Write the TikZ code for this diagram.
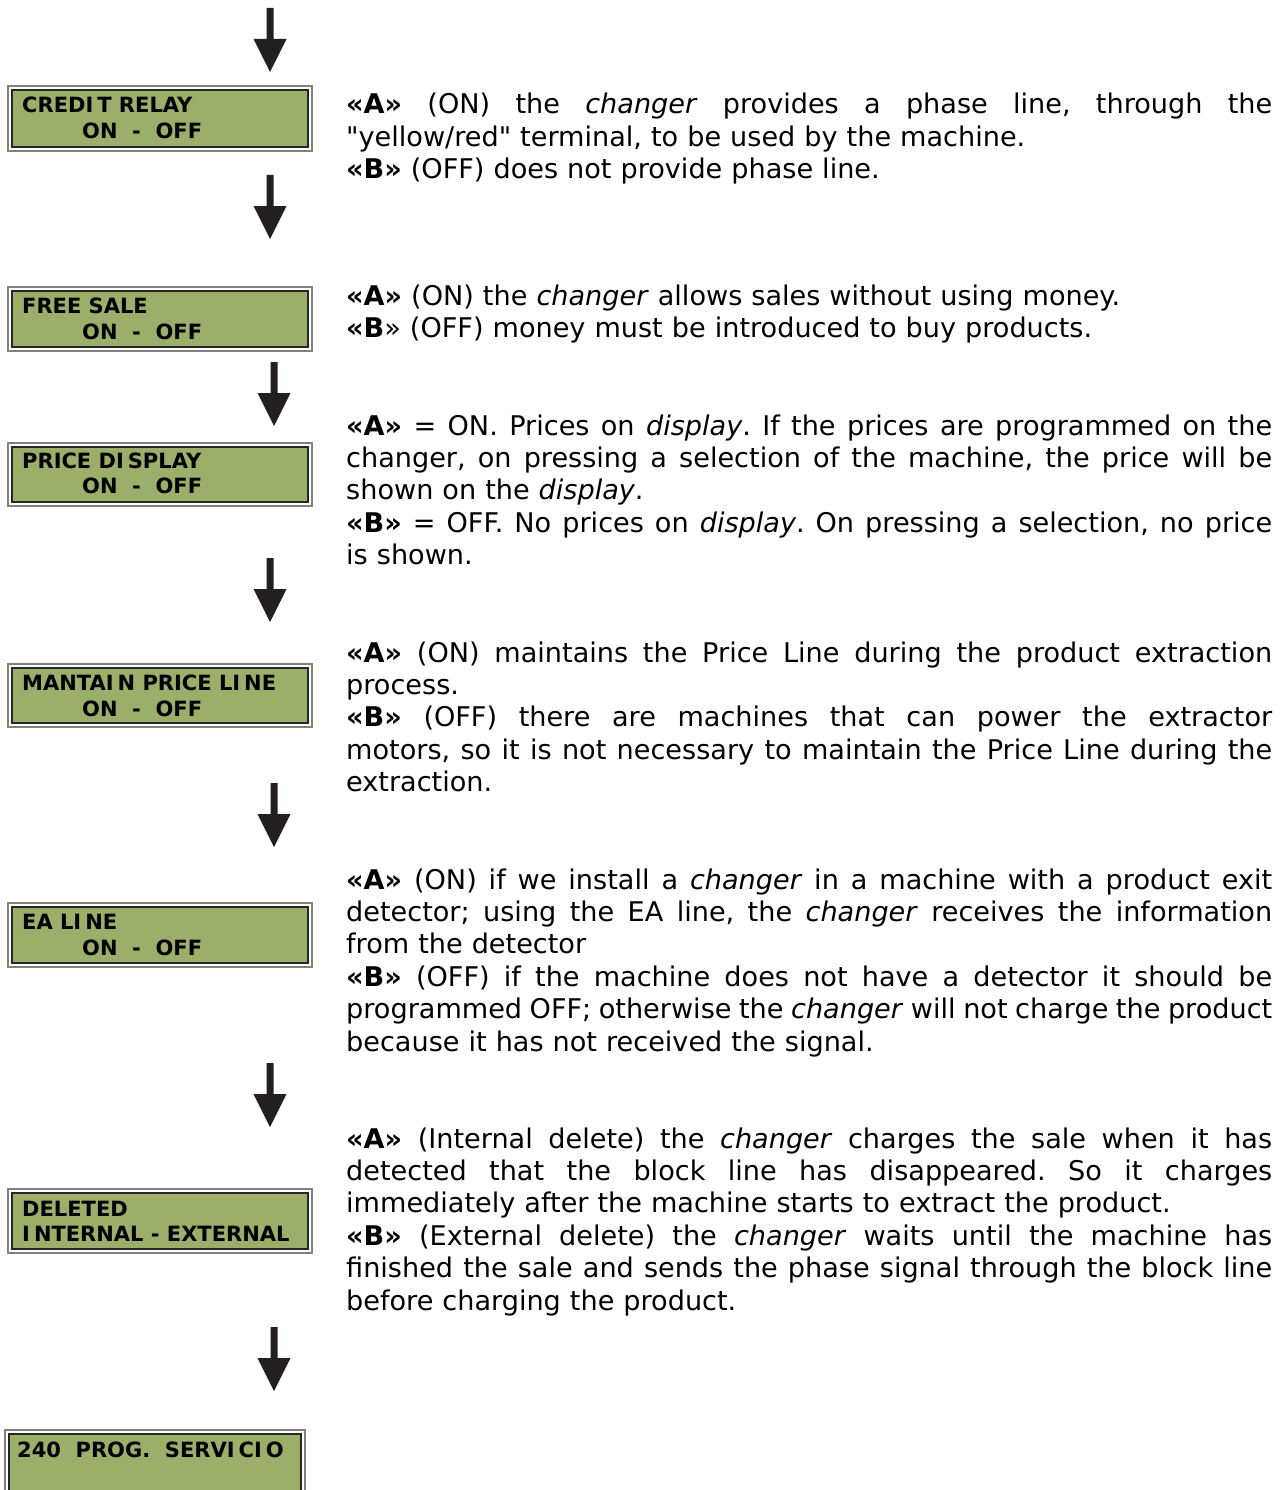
\documentclass[tikz,border=0pt]{standalone}
\usepackage{fontspec}
\setmainfont{DejaVu Sans}
\definecolor{lcdgreen}{RGB}{155,174,106}
\definecolor{framegray}{RGB}{128,128,128}
\definecolor{arrowcol}{RGB}{35,31,32}
\newcommand\jl[1]{\leavevmode\hbox to 926pt{\spaceskip=\fontdimen2\font plus 1fil minus .3\fontdimen2\font\relax\xspaceskip=\spaceskip #1}}
\newcommand\lln[1]{\leavevmode\hbox to 926pt{#1\hss}}
\newcommand\A{\textbf{«A»}}
\newcommand\B{\textbf{«B»}}
\newcommand\gp{\kern4pt}
\begin{document}
\begin{tikzpicture}[x=1pt,y=-1pt,
  frame/.style={draw=framegray,line width=1.2pt,fill=white,minimum width=304pt,minimum height=64pt,inner sep=0pt},
  lcd/.style={draw=black!85,line width=1.2pt,fill=lcdgreen,minimum width=296pt,minimum height=56pt,inner sep=0pt},
  lcdtext/.style={anchor=base west,inner sep=0pt,font=\fontsize{21}{25}\selectfont\bfseries},
  body/.style={anchor=base west,inner sep=0pt,text width=926pt,align=left,font=\fontsize{27.1}{32.4}\selectfont\frenchspacing},
  downarrow/.pic={\fill[arrowcol] (-3.5,0) -- (3.5,0) -- (3.5,31) -- (16.5,31) -- (0,64) -- (-16.5,31) -- (-3.5,31) -- cycle;}]
\useasboundingbox (0,0) rectangle (1286,1490);
% arrows
\pic at (270,8) {downarrow};
\pic at (270,175) {downarrow};
\pic at (274,362) {downarrow};
\pic at (270,558) {downarrow};
\pic at (274,783) {downarrow};
\pic at (270,1063) {downarrow};
\pic at (274,1327) {downarrow};
% boxes
\node[frame,minimum height=65pt] (f1) at (160,118.5) {};
\node[lcd,minimum height=57pt] (l1) at (f1.center) {};
\node[lcdtext] (t1a) at (22,113) {CREDI\gp T RELAY};
\node[lcdtext] (t1b) at (82,139) {ON \ - \ OFF};

\node[frame] (f2) at (160,319) {};
\node[lcd] (l2) at (f2.center) {};
\node[lcdtext] (t2a) at (22,313) {FREE SALE};
\node[lcdtext] (t2b) at (82,339) {ON \ - \ OFF};

\node[frame,minimum height=63pt] (f3) at (160,474.5) {};
\node[lcd,minimum height=55pt] (l3) at (f3.center) {};
\node[lcdtext] (t3a) at (22,468) {PRICE DI\gp SPLAY};
\node[lcdtext] (t3b) at (82,493) {ON \ - \ OFF};

\node[frame,minimum height=63pt] (f4) at (160,695.5) {};
\node[lcd,minimum height=55pt] (l4) at (f4.center) {};
\node[lcdtext] (t4a) at (22,690) {MANTAI\gp N PRICE LI\gp NE};
\node[lcdtext] (t4b) at (82,716) {ON \ - \ OFF};

\node[frame] (f5) at (160,935) {};
\node[lcd] (l5) at (f5.center) {};
\node[lcdtext] (t5a) at (22,929) {EA LI\gp NE};
\node[lcdtext] (t5b) at (82,955) {ON \ - \ OFF};

\node[frame] (f6) at (160,1221) {};
\node[lcd] (l6) at (f6.center) {};
\node[lcdtext] (t6a) at (22,1216) {DELETED};
\node[lcdtext] (t6b) at (22,1241) {I\gp NTERNAL - EXTERNAL};

\node[frame,minimum width=300pt,minimum height=80pt] (f7) at (155,1470) {};
\node[lcd,minimum width=292pt,minimum height=72pt] (l7) at (f7.center) {};
\node[lcdtext] (t7a) at (17,1457) {240 \ PROG. \ SERVI\gp CI\gp O};

% descriptions
\node[body] (p1) at (346,114) {\jl{\A{} (ON) the \emph{changer} provides a phase line, through the}\\
\lln{\textquotedbl yellow/red\textquotedbl{} terminal, to be used by the machine.}\\
\lln{\B{} (OFF) does not provide phase line.}};

\node[body] (p2) at (346,305) {\lln{\A{} (ON) the \emph{changer} allows sales without using money.}\\
\lln{\textbf{«B}» (OFF) money must be introduced to buy products.}};

\node[body] (p3) at (346,435) {\jl{\A{} = ON. Prices on \emph{display}. If the prices are programmed on the}\\
\jl{changer, on pressing a selection of the machine, the price will be}\\
\lln{shown on the \emph{display}.}\\
\jl{\B{} = OFF. No prices on \emph{display}. On pressing a selection, no price}\\
\lln{is shown.}};

\node[body] (p4) at (346,662) {\jl{\A{} (ON) maintains the Price Line during the product extraction}\\
\lln{process.}\\
\jl{\B{} (OFF) there are machines that can power the extractor}\\
\jl{motors, so it is not necessary to maintain the Price Line during the}\\
\lln{extraction.}};

\node[body] (p5) at (346,889) {\jl{\A{} (ON) if we install a \emph{changer} in a machine with a product exit}\\
\jl{detector; using the EA line, the \emph{changer} receives the information}\\
\lln{from the detector}\\
\jl{\B{} (OFF) if the machine does not have a detector it should be}\\
\jl{programmed OFF; otherwise the \emph{changer} will not charge the product}\\
\lln{because it has not received the signal.}};

\node[body] (p6) at (346,1148) {\jl{\A{} (Internal delete) the \emph{changer} charges the sale when it has}\\
\jl{detected that the block line has disappeared. So it charges}\\
\lln{immediately after the machine starts to extract the product.}\\
\jl{\B{} (External delete) the \emph{changer} waits until the machine has}\\
\jl{finished the sale and sends the phase signal through the block line}\\
\lln{before charging the product.}};
\end{tikzpicture}
\end{document}
